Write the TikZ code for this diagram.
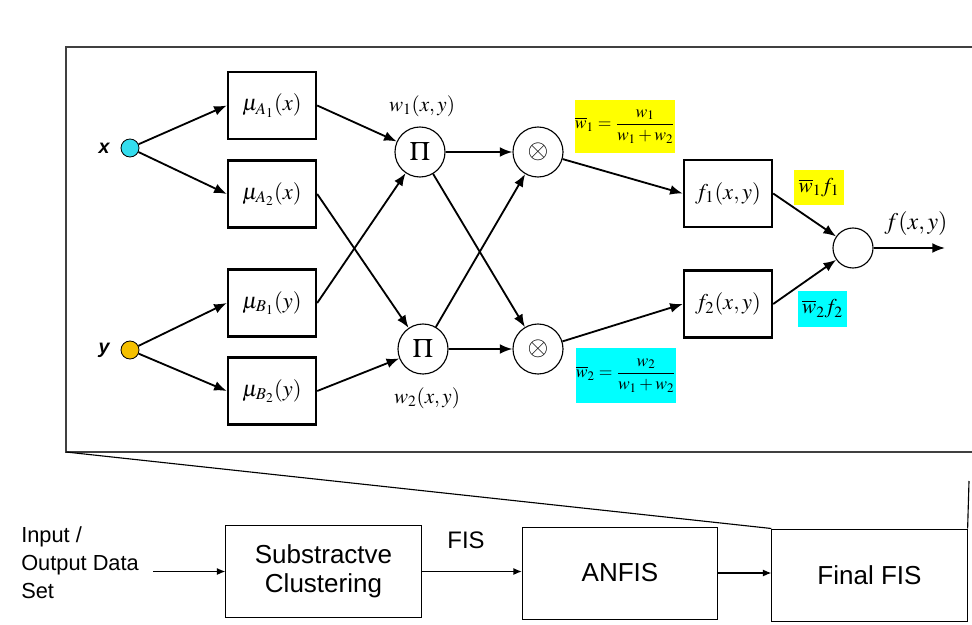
\documentclass[tikz,border=0pt]{standalone}
\usepackage{mathptmx}
\usepackage{fontspec}
\setmainfont{Liberation Serif}
\setsansfont{Liberation Sans}
\usetikzlibrary{arrows.meta}

\definecolor{incyan}{HTML}{33DDEE}
\definecolor{inorange}{HTML}{F5C000}
\definecolor{hiyellow}{HTML}{FFFF00}
\definecolor{hicyan}{HTML}{00FFFF}

\begin{document}
\begin{tikzpicture}[x=0.025cm, y=-0.025cm,
	mfbox/.style={draw, line width=1.7pt, minimum width=2.2cm, minimum height=1.675cm, inner sep=0pt, font=\fontsize{16}{18}\selectfont},
	opnode/.style={circle, draw, line width=0.8pt, minimum size=1.25cm, inner sep=0pt, font=\fontsize{19}{21}\selectfont},
	innode/.style={circle, draw, line width=0.6pt, minimum size=0.45cm, inner sep=0pt},
	hilite/.style={inner sep=0pt, font=\fontsize{12.5}{14}\selectfont},
	wlabel/.style={font=\fontsize{15}{17}\selectfont},
	stage/.style={draw, line width=0.7pt, minimum width=4.88cm, minimum height=2.3cm, align=center, font=\sffamily\fontsize{18.5}{24}\selectfont},
	link/.style={-{Latex[length=9pt,width=7pt]}, line width=1.3pt},
	flow/.style={-{Latex[length=6pt,width=5pt]}, line width=0.9pt},
	]
	\useasboundingbox (0,0) rectangle (972,624);

	% ANFIS network
	\draw[line width=1.2pt, black!75] (972,47) -- (66,47) -- (66,452) -- (972,452);

	\node[innode, fill=incyan] (x) at (130,148) {};
	\node[innode, fill=inorange] (y) at (130,350) {};
	\node[font=\sffamily\bfseries\itshape\fontsize{14}{16}\selectfont] (xlab) at (104,148) {x};
	\node[font=\sffamily\bfseries\itshape\fontsize{14}{16}\selectfont] (ylab) at (104,350) {y};

	\node[mfbox] (muA1) at (272,105.5) {$\mu_{A_1}(x)$};
	\node[mfbox] (muA2) at (272,194) {$\mu_{A_2}(x)$};
	\node[mfbox] (muB1) at (272,303) {$\mu_{B_1}(y)$};
	\node[mfbox] (muB2) at (272,391) {$\mu_{B_2}(y)$};

	\node[opnode] (prod1) at (420,152) {$\Pi$};
	\node[opnode] (prod2) at (423,349) {$\Pi$};
	\node[wlabel] (w1) at (422,106) {$w_1(x,y)$};
	\node[wlabel] (w2) at (427,398) {$w_2(x,y)$};

	\node[opnode] (norm1) at (538,152) {$\otimes$};
	\node[opnode] (norm2) at (538,349) {$\otimes$};

	\node[hilite, fill=hiyellow, minimum width=2.45cm, minimum height=1.325cm] (wbar1) at (625,126.5) {$\displaystyle\overline{w}_1=\frac{w_1}{w_1+w_2}$};
	\node[hilite, fill=hicyan, minimum width=2.5cm, minimum height=1.375cm] (wbar2) at (626,375.5) {$\displaystyle\overline{w}_2=\frac{w_2}{w_1+w_2}$};

	\node[mfbox] (f1) at (728,193.5) {$f_1(x,y)$};
	\node[mfbox] (f2) at (728,304) {$f_2(x,y)$};

	\node[wlabel, fill=hiyellow, minimum width=1.25cm, minimum height=0.875cm, inner sep=0pt] (wf1) at (819,187.5) {$\overline{w}_1 f_1$};
	\node[wlabel, fill=hicyan, minimum width=1.225cm, minimum height=0.9cm, inner sep=0pt] (wf2) at (822.5,309) {$\overline{w}_2 f_2$};

	\node[circle, draw, line width=0.8pt, minimum size=1.0cm, inner sep=0pt] (sum) at (853,248) {};
	\coordinate (out) at (945,248);
	\node[font=\fontsize{17}{19}\selectfont] (flab) at (916,224) {$f(x,y)$};

	\path
		(x) edge[link] (muA1.west)
		(x) edge[link] (muA2.west)
		(y) edge[link] (muB1.west)
		(y) edge[link] (muB2.west)

		(muA1.east) edge[link] (prod1)
		(muB1.east) edge[link] (prod1)
		(muA2.east) edge[link] (prod2)
		(muB2.east) edge[link] (prod2)

		(prod1) edge[link] (norm1)
		(prod1) edge[link] (norm2)
		(prod2) edge[link] (norm1)
		(prod2) edge[link] (norm2)

		(norm1) edge[link] (f1.west)
		(norm2) edge[link] (f2.west)
		(f1.east) edge[link] (sum)
		(f2.east) edge[link] (sum)
		(sum) edge[link] (out)
		;

	% training flow
	\node[font=\sffamily\fontsize{15.5}{19.9}\selectfont, align=left, anchor=west, inner sep=0pt] (io) at (21,563) {Input /\\Output Data\\Set};
	\node[stage] (sub) at (323.5,571.5) {Substractve\\[-3pt]Clustering};
	\node[stage] (anfis) at (620,573) {ANFIS};
	\node[stage] (final) at (869.5,575) {Final FIS};
	\node[font=\sffamily\fontsize{17}{19}\selectfont] (fis) at (466,540) {FIS};

	\coordinate (boxSW) at (66,452);
	\coordinate (boxSE) at (969,481);
	\draw[line width=0.8pt] (boxSW) -- (final.north west);
	\draw[line width=0.8pt] (boxSE) -- (final.north east);

	\path
		([xshift=0.35cm]io.east |- sub.west) edge[flow] (sub.west)
		(sub.east) edge[flow] (sub.east -| anfis.west)
		(anfis.east) edge[flow] (anfis.east -| final.west)
		;
\end{tikzpicture}
\end{document}
